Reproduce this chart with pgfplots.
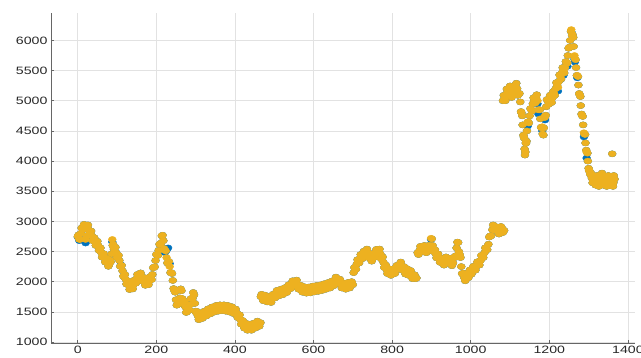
\documentclass[border=0pt]{standalone}
\usepackage{fontspec}
\setmainfont{Liberation Sans}[FakeStretch=1.33]
\usepackage{pgfplots}
\usepackage{pgfplotstable}
\pgfplotsset{compat=1.18}

\definecolor{octblue}{RGB}{0,114,189}
\definecolor{octgold}{RGB}{237,177,32}
\definecolor{gridgray}{RGB}{226,226,226}

% x = index, ya = series drawn on top (gold), yb = series drawn below (blue)
\pgfplotstableread{
x ya yb
0 2750 2740
4 2700 2680
8 2800 2800
12 2880 2880
16 2950 2950
20 2700 2640
24 2920 2920
28 2860 2860
32 2820 2820
36 2760 2760
40 2700 2700
44 2660 2660
48 2640 2630
52 2600 2600
56 2540 2540
60 2480 2480
64 2430 2430
68 2400 2400
72 2350 2350
76 2320 2320
80 2290 2290
84 2330 2330
88 2700 2660
90 2620 2620
94 2560 2560
98 2480 2480
102 2420 2420
106 2350 2350
110 2260 2280
114 2180 2180
118 2100 2100
122 2040 2040
126 1980 1980
130 1940 1940
134 1900 1900
138 1910 1910
142 1950 1950
146 2000 2000
150 2050 2050
154 2090 2090
158 2110 2110
162 2080 2080
166 2040 2040
170 2000 2000
174 1980 1980
178 1990 1990
182 2010 2010
186 2050 2050
190 2120 2120
194 2240 2240
198 2350 2350
202 2450 2450
206 2520 2520
210 2620 2620
214 2760 2760
218 2680 2680
222 2520 2480
226 2400 2520
230 2320 2560
234 2250 2300
238 2150 2150
242 2020 2020
246 1850 1850
250 1700 1700
254 1620 1620
258 1680 1700
262 1880 1880
266 1720 1720
270 1660 1640
274 1580 1580
278 1500 1500
282 1540 1540
286 1620 1620
290 1720 1700
294 1820 1820
298 1640 1640
302 1480 1480
306 1430 1430
310 1410 1410
315 1430 1430
320 1450 1450
325 1470 1470
330 1490 1490
335 1510 1510
340 1520 1520
345 1540 1540
350 1550 1550
355 1560 1560
360 1560 1560
365 1570 1570
370 1570 1570
375 1560 1560
380 1560 1560
385 1550 1550
390 1540 1540
395 1530 1530
400 1510 1510
405 1480 1480
410 1430 1430
414 1370 1370
418 1320 1320
422 1290 1290
426 1270 1270
430 1250 1250
435 1240 1240
440 1240 1240
445 1250 1250
450 1270 1270
455 1290 1290
460 1300 1300
465 1320 1320
466 1750 1750
470 1740 1740
475 1730 1730
480 1720 1720
485 1710 1710
490 1690 1690
495 1720 1720
500 1760 1760
505 1800 1800
510 1810 1810
515 1820 1820
520 1830 1830
525 1840 1840
530 1860 1860
535 1880 1880
540 1920 1920
545 1950 1950
550 1980 1980
555 2000 2000
560 1950 1950
565 1900 1900
570 1880 1880
575 1870 1870
580 1860 1860
585 1860 1860
590 1860 1860
595 1870 1870
600 1880 1880
605 1880 1880
610 1890 1890
615 1890 1890
620 1900 1890
625 1910 1910
630 1920 1920
635 1930 1930
640 1940 1940
645 1950 1950
650 1970 1970
655 2000 2000
660 2050 2050
665 2020 2020
670 1960 1960
675 1930 1930
680 1920 1920
685 1930 1930
690 1940 1940
695 1950 1950
700 1950 1950
702 2150 2150
706 2220 2220
710 2290 2290
714 2340 2340
718 2380 2380
722 2420 2420
726 2440 2440
730 2470 2470
734 2500 2500
738 2480 2480
742 2420 2420
746 2380 2380
750 2400 2400
754 2440 2440
758 2470 2470
762 2500 2500
766 2520 2520
770 2460 2460
774 2400 2400
778 2320 2320
782 2250 2250
786 2200 2200
790 2170 2170
795 2160 2160
800 2150 2150
805 2170 2170
810 2200 2200
815 2240 2240
820 2290 2290
824 2260 2260
828 2220 2220
832 2180 2180
836 2170 2170
840 2160 2160
845 2150 2150
850 2120 2120
855 2080 2080
860 2050 2050
865 2480 2480
870 2520 2520
875 2550 2550
880 2560 2560
885 2540 2540
890 2520 2520
895 2580 2580
899 2720 2700
903 2600 2600
907 2500 2500
911 2460 2460
915 2430 2430
920 2390 2390
925 2350 2350
930 2310 2310
935 2340 2340
940 2380 2380
945 2350 2350
950 2320 2320
955 2310 2310
960 2400 2400
964 2560 2560
968 2650 2650
972 2450 2450
976 2250 2250
980 2120 2120
984 2060 2060
988 2070 2070
992 2100 2100
996 2130 2130
1000 2160 2160
1005 2190 2190
1010 2220 2220
1015 2260 2260
1020 2300 2300
1025 2350 2350
1030 2420 2420
1035 2480 2480
1040 2540 2540
1045 2620 2620
1050 2760 2760
1055 2860 2860
1060 2920 2920
1065 2880 2880
1070 2830 2830
1075 2850 2850
1080 2880 2880
1085 2850 2850
1082 5000 5000
1086 5040 5040
1090 5100 5100
1094 5150 5150
1098 5200 5200
1102 5150 5150
1106 5100 5100
1110 5180 5180
1114 5240 5240
1118 5200 5200
1122 5120 5120
1126 4980 4980
1129 4800 4800
1132 4600 4600
1135 4400 4400
1137 4200 4200
1139 4150 4150
1141 4300 4300
1143 4500 4500
1146 4650 4650
1150 4750 4750
1154 4850 4850
1158 4950 4950
1162 5000 5000
1166 5050 5050
1170 5000 4950
1174 4850 4850
1177 4700 4700
1180 4550 4550
1183 4450 4450
1186 4550 4550
1189 4750 4680
1192 4900 4900
1196 5000 5000
1200 5020 5020
1204 5020 5020
1208 5050 5050
1212 5120 5120
1216 5200 5200
1220 5260 5260
1224 5320 5320
1228 5400 5350
1232 5460 5460
1236 5500 5420
1240 5550 5550
1244 5620 5620
1247 5750 5750
1250 5880 5880
1253 6000 6000
1256 6180 6140
1259 6100 6100
1262 5900 5900
1265 5700 5640
1268 5550 5550
1271 5420 5380
1274 5260 5260
1277 5100 5100
1280 4920 4920
1283 4760 4760
1286 4600 4600
1289 4450 4450
1292 4300 4300
1295 4150 4050
1298 4000 4000
1301 3850 3850
1304 3780 3780
1308 3720 3720
1312 3680 3680
1316 3640 3640
1320 3700 3700
1324 3620 3620
1328 3680 3680
1332 3750 3750
1336 3660 3660
1340 3700 3700
1344 3630 3630
1348 3700 3700
1352 3650 3650
1356 3680 3680
1360 4120 4120
1363 3640 3640
1366 3700 3700
}\seriesdata

% in-between samples of the same two series
\pgfplotstableread{
x ya yb
2 2775 2775
6 2700 2700
10 2890 2890
14 2865 2865
18 2875 2875
22 2760 2760
26 2940 2940
30 2790 2790
34 2840 2840
38 2680 2680
42 2730 2730
46 2600 2600
50 2670 2670
54 2520 2520
58 2560 2560
62 2405 2405
66 2465 2465
70 2325 2325
74 2385 2385
78 2255 2255
82 2360 2360
86 2460 2460
89 2600 2600
92 2540 2540
96 2570 2570
100 2400 2400
104 2435 2435
108 2255 2255
112 2270 2270
116 2090 2090
120 2120 2120
124 1960 1960
128 2010 2010
132 1870 1870
136 1955 1955
140 1880 1880
144 2025 2025
148 1975 1975
152 2120 2120
156 2050 2050
160 2145 2145
164 2010 2010
168 2070 2070
172 1940 1940
176 2035 2035
180 1950 1950
184 2080 2080
188 2035 2035
192 2230 2230
196 2245 2245
200 2450 2450
204 2435 2435
208 2620 2620
212 2640 2640
216 2770 2770
220 2550 2550
224 2510 2510
228 2310 2310
232 2335 2335
236 2150 2150
240 2135 2135
244 1885 1885
248 1825 1825
252 1610 1610
256 1700 1700
260 1730 1730
264 1850 1850
268 1640 1640
272 1670 1670
276 1490 1490
280 1570 1570
284 1530 1530
288 1720 1720
292 1720 1720
296 1780 1780
300 1510 1510
304 1505 1505
308 1370 1370
312 1470 1470
317 1390 1390
322 1510 1510
327 1430 1430
332 1550 1550
337 1465 1465
342 1580 1580
347 1495 1495
352 1605 1605
357 1510 1510
362 1615 1615
367 1520 1520
372 1615 1615
377 1510 1510
382 1605 1605
387 1495 1495
392 1585 1585
397 1470 1470
402 1545 1545
407 1405 1405
412 1450 1450
416 1295 1295
420 1355 1355
424 1230 1230
428 1310 1310
432 1195 1195
437 1290 1290
442 1195 1195
447 1310 1310
452 1230 1230
457 1345 1345
462 1260 1260
468 1790 1790
472 1685 1685
477 1775 1775
482 1665 1665
487 1750 1750
492 1655 1655
497 1790 1790
502 1730 1730
507 1855 1855
512 1765 1765
517 1875 1875
522 1785 1785
527 1900 1900
532 1820 1820
537 1950 1950
542 1885 1885
547 2015 2015
552 1940 1940
557 2025 2025
562 1875 1875
567 1940 1940
572 1825 1825
577 1915 1915
582 1810 1810
587 1910 1910
592 1815 1815
597 1925 1925
602 1830 1830
607 1935 1935
612 1840 1840
617 1945 1945
622 1855 1855
627 1965 1965
632 1875 1875
637 1985 1985
642 1895 1895
647 2010 2010
652 1935 1935
657 2075 2075
662 1985 1985
667 2040 2040
672 1895 1895
677 1975 1975
682 1875 1875
687 1985 1985
692 1895 1895
697 2000 2000
704 2235 2235
708 2205 2205
712 2365 2365
716 2310 2310
720 2450 2450
724 2380 2380
728 2505 2505
732 2435 2435
736 2540 2540
740 2400 2400
744 2450 2450
748 2340 2340
752 2470 2470
756 2405 2405
760 2535 2535
764 2460 2460
768 2540 2540
772 2380 2380
776 2410 2410
780 2235 2235
784 2275 2275
788 2135 2135
792 2215 2215
797 2105 2105
802 2210 2210
807 2135 2135
812 2270 2270
817 2215 2215
822 2325 2325
826 2190 2190
830 2250 2250
834 2125 2125
838 2215 2215
842 2105 2105
847 2185 2185
852 2050 2050
857 2115 2115
862 2060 2060
867 2450 2450
872 2585 2585
877 2505 2505
882 2600 2600
887 2480 2480
892 2600 2600
897 2600 2600
901 2710 2710
905 2500 2500
909 2530 2530
913 2395 2395
917 2460 2460
922 2320 2320
927 2380 2380
932 2275 2275
937 2410 2410
942 2315 2315
947 2385 2385
952 2265 2265
957 2405 2405
962 2430 2430
966 2655 2655
970 2500 2500
974 2400 2400
978 2135 2135
982 2140 2140
986 2015 2015
990 2135 2135
994 2065 2065
998 2195 2195
1002 2125 2125
1007 2255 2255
1012 2190 2190
1017 2330 2330
1022 2275 2275
1027 2435 2435
1032 2400 2400
1037 2560 2560
1042 2530 2530
1047 2740 2740
1052 2760 2760
1057 2940 2940
1062 2850 2850
1067 2905 2905
1072 2790 2790
1077 2915 2915
1082 2815 2815
1084 5090 5090
1088 5000 5000
1092 5195 5195
1096 5105 5105
1100 5245 5245
1104 5055 5055
1108 5210 5210
1112 5140 5140
1116 5290 5290
1120 5090 5090
1124 5120 5120
1128 4820 4820
1131 4750 4750
1134 4430 4430
1136 4380 4380
1138 4100 4100
1140 4300 4300
1142 4330 4330
1145 4650 4580
1148 4630 4630
1152 4870 4870
1156 4830 4830
1160 5050 5050
1164 4960 4960
1168 5100 5100
1172 4850 4780
1176 4850 4850
1179 4560 4560
1182 4570 4500
1185 4430 4430
1188 4720 4720
1191 4760 4760
1194 5020 5020
1198 4940 4940
1202 5090 5090
1206 4970 4970
1210 5150 5150
1214 5090 5090
1218 5300 5300
1222 5220 5160
1226 5430 5430
1230 5360 5360
1234 5550 5550
1238 5460 5460
1242 5650 5650
1246 5630 5570
1249 5870 5870
1252 5890 5890
1255 6150 6150
1258 6080 6080
1261 6050 6050
1264 5750 5690
1267 5680 5680
1270 5420 5420
1273 5400 5400
1276 5120 5120
1279 5070 5070
1282 4780 4780
1285 4740 4740
1288 4470 4400
1291 4440 4440
1294 4180 4180
1297 4130 4130
1300 3880 3880
1302 3830 3830
1306 3800 3800
1310 3640 3640
1314 3760 3760
1318 3600 3600
1322 3760 3760
1326 3580 3580
1330 3650 3650
1334 3800 3800
1338 3600 3600
1342 3720 3720
1346 3580 3580
1350 3760 3760
1354 3600 3600
1358 3740 3740
1362 3580 3580
1364 3760 3760
}\seriesextra

\begin{document}
\begin{tikzpicture}
\begin{axis}[
  scale only axis,
  width=584bp, height=330bp,
  xmin=-68, xmax=1418,
  ymin=983, ymax=6455,
  axis x line*=bottom,
  axis y line*=left,
  axis line style={-, black!60, line width=0.6bp},
  xtick={0,200,...,1400},
  ytick={1000,1500,...,6000},
  grid=major,
  major grid style={gridgray, line width=0.6bp},
  tick align=inside,
  major tick length=3bp,
  tick style={black!60, line width=0.6bp},
  ticklabel style={font=\fontsize{10.7}{12}\selectfont, text=black!85},
  /pgf/number format/assume math mode=true,
  /pgf/number format/1000 sep={},
  every axis plot/.append style={only marks, mark=*, mark size=3.05bp},
]
\addplot[mark options={xscale=1.3, draw=octblue, fill=octblue}]
  table[x=x, y=yb] {\seriesdata};
\addplot[mark options={xscale=1.3, draw=octblue, fill=octblue}]
  table[x=x, y=yb] {\seriesextra};
\addplot[mark options={xscale=1.3, draw=octgold, fill=octgold}]
  table[x=x, y=ya] {\seriesdata};
\addplot[mark options={xscale=1.3, draw=octgold, fill=octgold}]
  table[x=x, y=ya] {\seriesextra};
\end{axis}
\pgfresetboundingbox
\path ([xshift=-51bp,yshift=-15bp]current axis.south west)
  rectangle ([xshift=6bp,yshift=13bp]current axis.north east);
\end{tikzpicture}
\end{document}
